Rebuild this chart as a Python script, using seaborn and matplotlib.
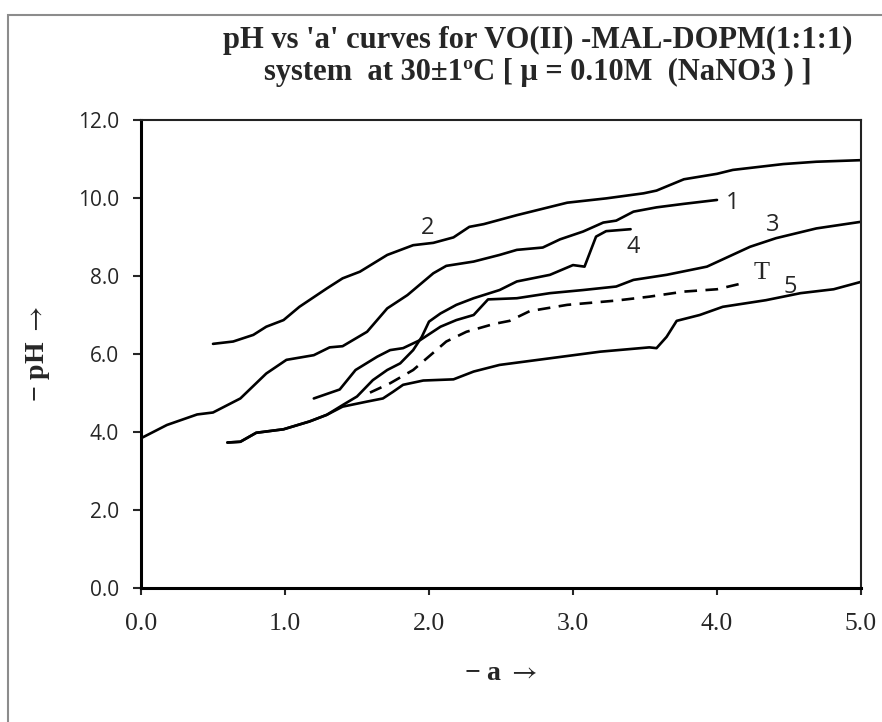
import numpy as np
import pandas as pd
import matplotlib
matplotlib.use('Agg')
import matplotlib.pyplot as plt
import seaborn as sns
from matplotlib.patches import Rectangle

# ---- data ----
a1 = [0.00, 0.18, 0.39, 0.50, 0.69, 0.87, 1.01, 1.20, 1.31, 1.40, 1.57, 1.71, 1.85, 2.03, 2.12,
      2.31, 2.49, 2.61, 2.79, 2.91, 3.07, 3.21, 3.30, 3.42, 3.58, 3.77, 4.00]
ph1 = [3.84, 4.18, 4.45, 4.50, 4.86, 5.50, 5.85, 5.97, 6.17, 6.20, 6.57, 7.17, 7.51, 8.07, 8.26,
       8.37, 8.54, 8.67, 8.73, 8.94, 9.14, 9.37, 9.42, 9.65, 9.76, 9.85, 9.95]

a2 = [0.50, 0.64, 0.78, 0.87, 0.99, 1.10, 1.29, 1.40, 1.52, 1.71, 1.89, 2.03, 2.17, 2.28, 2.38,
      2.61, 2.96, 3.23, 3.49, 3.58, 3.77, 4.00, 4.11, 4.46, 4.69, 5.00]
ph2 = [6.26, 6.32, 6.49, 6.70, 6.87, 7.21, 7.68, 7.94, 8.11, 8.54, 8.79, 8.85, 8.99, 9.26, 9.33,
       9.56, 9.88, 9.99, 10.12, 10.19, 10.48, 10.62, 10.72, 10.87, 10.93, 10.97]

a3 = [1.20, 1.38, 1.49, 1.64, 1.73, 1.82, 1.94, 2.08, 2.19, 2.31, 2.41, 2.61, 2.84, 3.07, 3.30,
      3.42, 3.65, 3.93, 4.23, 4.41, 4.69, 5.00]
ph3 = [4.86, 5.09, 5.59, 5.93, 6.10, 6.15, 6.36, 6.70, 6.87, 7.00, 7.40, 7.43, 7.56, 7.64, 7.73,
       7.90, 8.03, 8.24, 8.75, 8.97, 9.22, 9.39]

a4 = [0.60, 0.69, 0.80, 0.99, 1.17, 1.29, 1.40, 1.50, 1.61, 1.71, 1.80, 1.89, 1.95, 2.00, 2.08,
      2.19, 2.31, 2.49, 2.61, 2.84, 3.00, 3.08, 3.16, 3.23, 3.40]
ph4 = [3.73, 3.75, 3.98, 4.07, 4.27, 4.44, 4.69, 4.91, 5.33, 5.59, 5.76, 6.10, 6.44, 6.83, 7.04,
       7.26, 7.43, 7.64, 7.86, 8.03, 8.28, 8.24, 9.01, 9.15, 9.20]

a5 = [0.60, 0.69, 0.80, 0.99, 1.17, 1.29, 1.40, 1.57, 1.68, 1.75, 1.82, 1.96, 2.17, 2.31, 2.49,
      2.84, 3.19, 3.53, 3.58, 3.65, 3.72, 3.88, 4.04, 4.34, 4.58, 4.81, 5.00]
ph5 = [3.73, 3.75, 3.98, 4.07, 4.27, 4.44, 4.65, 4.78, 4.86, 5.03, 5.21, 5.32, 5.35, 5.55, 5.72,
       5.89, 6.06, 6.17, 6.15, 6.44, 6.85, 7.00, 7.21, 7.38, 7.56, 7.66, 7.85]

aT = [1.59, 1.73, 1.89, 2.01, 2.12, 2.26, 2.45, 2.56, 2.70, 2.96, 3.30, 3.53, 3.77, 4.00, 4.15]
phT = [5.01, 5.25, 5.59, 5.97, 6.32, 6.57, 6.77, 6.85, 7.10, 7.26, 7.37, 7.47, 7.60, 7.66, 7.79]

curve_labels = ['1', '2', '3', '4', 'T', '5']
label_x = [4.11, 1.99, 4.39, 3.42, 4.31, 4.51]
label_y = [9.87, 9.23, 9.31, 8.74, 8.08, 7.72]

x_ticks = [0.0, 1.0, 2.0, 3.0, 4.0, 5.0]
y_ticks = [0.0, 2.0, 4.0, 6.0, 8.0, 10.0, 12.0]

# ---- style ----
sns.set_style('white')
plt.rcParams['font.family'] = ['Liberation Serif', 'DejaVu Serif']
plt.rcParams['mathtext.fontset'] = 'stix'

fig = plt.figure(figsize=(8.82, 7.22), dpi=100)
ax = fig.add_axes([141 / 882, 1 - 588 / 722, 720 / 882, 468 / 722])

# outer chart border (grey)
fig.patches.append(Rectangle((8 / 882, -0.05), 1.2, 1 - 15 / 722 + 0.05,
                             transform=fig.transFigure, fill=False,
                             edgecolor='#8c8c8c', linewidth=1.5))

line_kw = dict(color='black', linewidth=1.9, sort=False,
               solid_capstyle='round', solid_joinstyle='round')
solid = [(a1, ph1), (a2, ph2), (a3, ph3), (a4, ph4), (a5, ph5)]
for xs, ys in solid:
    sns.lineplot(x=xs, y=ys, ax=ax, **line_kw)
sns.lineplot(x=aT, y=phT, ax=ax, color='black', linewidth=1.9, sort=False,
             linestyle=(0, (4.8, 3.2)))

for lab, lx, ly in zip(curve_labels, label_x, label_y):
    if lab == 'T':
        ax.text(lx, ly, lab, fontsize=19, ha='center', va='center',
                family=['Liberation Serif'])
    else:
        ax.text(lx, ly, lab, fontsize=17, ha='center', va='center',
                family=['Open Sans', 'DejaVu Sans'])

ax.set_xlim(0, 5)
ax.set_ylim(0, 12)
ax.set_xticks(x_ticks)
ax.set_yticks(y_ticks)
ax.set_xticklabels([f'{v:.1f}' for v in x_ticks], fontsize=18.5,
                   family=['Liberation Serif'])
ax.set_yticklabels([f'{v:.1f}' for v in y_ticks], fontsize=15,
                   family=['Open Sans', 'DejaVu Sans'])
ax.tick_params(axis='y', direction='out', length=6, width=1.5, pad=10, left=True)
ax.tick_params(axis='x', direction='out', length=5, width=1.5, pad=13, bottom=True)

for side in ['left', 'bottom']:
    ax.spines[side].set_color('black')
    ax.spines[side].set_linewidth(2.2)
for side in ['top', 'right']:
    ax.spines[side].set_color('#222222')
    ax.spines[side].set_linewidth(1.5)

ax.set_xlabel('\u2212 a $\\rightarrow$', fontsize=20, fontweight='bold')
ax.set_ylabel('\u2212 pH $\\rightarrow$', fontsize=20, fontweight='bold')
ax.xaxis.set_label_coords(0.5, -0.155)
ax.yaxis.set_label_coords(-0.124, 0.5)

fig.text(0.61, 1 - 48 / 722, "pH vs 'a' curves for VO(II) -MAL-DOPM(1:1:1)",
         ha='center', va='baseline', fontsize=22, fontweight='bold')
fig.text(0.61, 1 - 80 / 722, "system  at 30\u00b11\u00baC [ \u03bc = 0.10M  (NaNO3 ) ]",
         ha='center', va='baseline', fontsize=22, fontweight='bold')

fig.savefig('out.png', dpi=100)
